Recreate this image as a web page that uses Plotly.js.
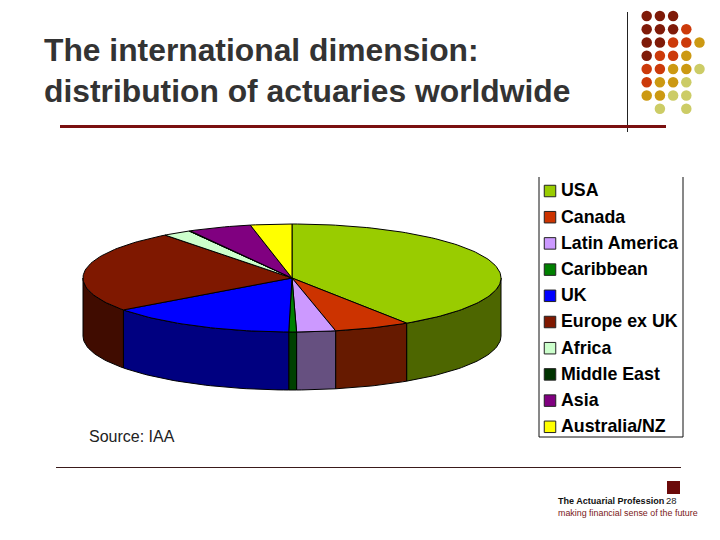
<!DOCTYPE html>
<html><head><meta charset="utf-8">
<script src="https://cdn.plot.ly/plotly-3.0.1.min.js"></script>
<style>html,body{margin:0;padding:0;background:#fff}#c{width:720px;height:540px}</style>
</head><body><div id="c"></div>
<script>
const categories = ["USA","Canada","Latin America","Caribbean","UK","Europe ex UK","Africa","Middle East","Asia","Australia/NZ"];
const shares = [40.8,5.9,3.0,0.6,14.7,24.7,2.2,0.1,4.9,3.2];
const topColors = ["#99cc00","#cc3300","#cc99ff","#008000","#0000ff","#7f1800","#ccffcc","#003300","#800080","#ffff00"];
const wallColors = ["#4d6600","#661a00","#665080","#004000","#000080","#400c00","#668066","#001a00","#400040","#808000"];
const dotRows = [[3,"DDD"],[4,"DDDO"],[5,"DDOOG"],[4,"DOOG"],[5,"OOGGK"],[4,"OGGK"],[4,"GGKK"],[5," K K "]];
const dotPalette = {D:"#7f1a08",O:"#cc3a0a",G:"#cc9912",K:"#cccc66"};

const cx=292, cy=278, rx=209, ry=54, depth=58;
const total = shares.reduce((a,b)=>a+b,0);
const pt = (deg,dy=0)=>{const t=deg*Math.PI/180;return [cx+rx*Math.sin(t), cy-ry*Math.cos(t)+dy];};
function arc(a,b,dy=0){const n=Math.max(2,Math.ceil(Math.abs(b-a)/1.5));const o=[];
  for(let i=0;i<=n;i++)o.push(pt(a+(b-a)*i/n,dy));return o;}
const poly=(pts,color,name)=>({type:"scatter",mode:"lines",x:pts.map(p=>p[0]),y:pts.map(p=>p[1]),
  fill:"toself",fillcolor:color,line:{color:"#000",width:1},name,showlegend:false,hoverinfo:"name"});

const traces=[], tops=[];
let start=0;
categories.forEach((c,i)=>{
  const end=start+shares[i]/total*360;
  const a=Math.max(start,90), b=Math.min(end,270);
  if(b>a) traces.push(poly(arc(a,b).concat(arc(b,a,depth)).concat([pt(a)]),wallColors[i],c+" side"));
  tops.push(poly([[cx,cy]].concat(arc(start,end)).concat([[cx,cy]]),topColors[i],c));
  start=end;
});
traces.push(...tops);

// legend drawn from the categories
const legTop=191, legStep=26.2;
const legY=categories.map((c,i)=>legTop+i*legStep);
traces.push({type:"scatter",mode:"markers",x:categories.map(()=>550),y:legY,
  marker:{symbol:"square",size:11.5,color:topColors,line:{color:"#222",width:1}},
  showlegend:false,hoverinfo:"skip"});
traces.push({type:"scatter",mode:"text",x:categories.map(()=>561),y:legY.map(v=>v+1),
  text:categories,textposition:"middle right",
  textfont:{family:"Liberation Sans, Arial, sans-serif",size:17.8,color:"#000",weight:700},
  showlegend:false,hoverinfo:"text",cliponaxis:false});

// decorative dots
const dx=[],dy=[],dc=[];
dotRows.forEach((r,j)=>{[...r[1]].forEach((k,i)=>{if(k!==" "){dx.push(646.7+i*13.2);dy.push(16+j*13.25);dc.push(dotPalette[k]);}});});
traces.push({type:"scatter",mode:"markers",x:dx,y:dy,marker:{size:10.5,color:dc},showlegend:false,hoverinfo:"skip"});

const line=(x0,y0,x1,y1,color,width)=>({type:"line",x0,y0,x1,y1,line:{color,width},layer:"above"});
const layout={width:720,height:540,margin:{l:0,r:0,t:0,b:0},paper_bgcolor:"#fff",plot_bgcolor:"#fff",showlegend:false,
  xaxis:{range:[0,720],visible:false,fixedrange:true},
  yaxis:{range:[540,0],visible:false,fixedrange:true},
  title:{text:"The international dimension:<br>distribution of actuaries worldwide",
    x:44/720,xanchor:"left",y:1-61/540,yanchor:"top",
    font:{family:"Liberation Sans, Arial, sans-serif",size:31.8,color:"#333",weight:700}},
  shapes:[
    line(627.5,12,627.5,132,"#222",1),
    line(60,126.5,666,126.5,"#7a1010",3),
    line(56,467.5,681,467.5,"#3a1a1a",1),
    line(539,177,539,437,"#111",1),
    line(683,177,683,437,"#111",1),
    line(539,437,683,437,"#111",1),
    {type:"rect",x0:667,y0:481,x1:680,y1:494,fillcolor:"#6b0a0a",line:{width:0}}
  ],
  annotations:[
    {text:"Source: IAA",x:87,y:436,xanchor:"left",yanchor:"middle",showarrow:false,
      font:{family:"Liberation Sans, Arial, sans-serif",size:16,color:"#222"}},
    {text:"<b>The Actuarial Profession</b>",x:556,y:501,xanchor:"left",yanchor:"middle",showarrow:false,
      font:{family:"Liberation Sans, Arial, sans-serif",size:9.05,color:"#111"}},
    {text:"28",x:664,y:500,xanchor:"left",yanchor:"middle",showarrow:false,
      font:{family:"Liberation Sans, Arial, sans-serif",size:9.5,color:"#222"}},
    {text:"making financial sense of the future",x:556,y:513,xanchor:"left",yanchor:"middle",showarrow:false,
      font:{family:"Liberation Sans, Arial, sans-serif",size:8.9,color:"#7a2020"}}
  ]};
Plotly.newPlot("c",traces,layout,{displayModeBar:false,staticPlot:true});
</script></body></html>
